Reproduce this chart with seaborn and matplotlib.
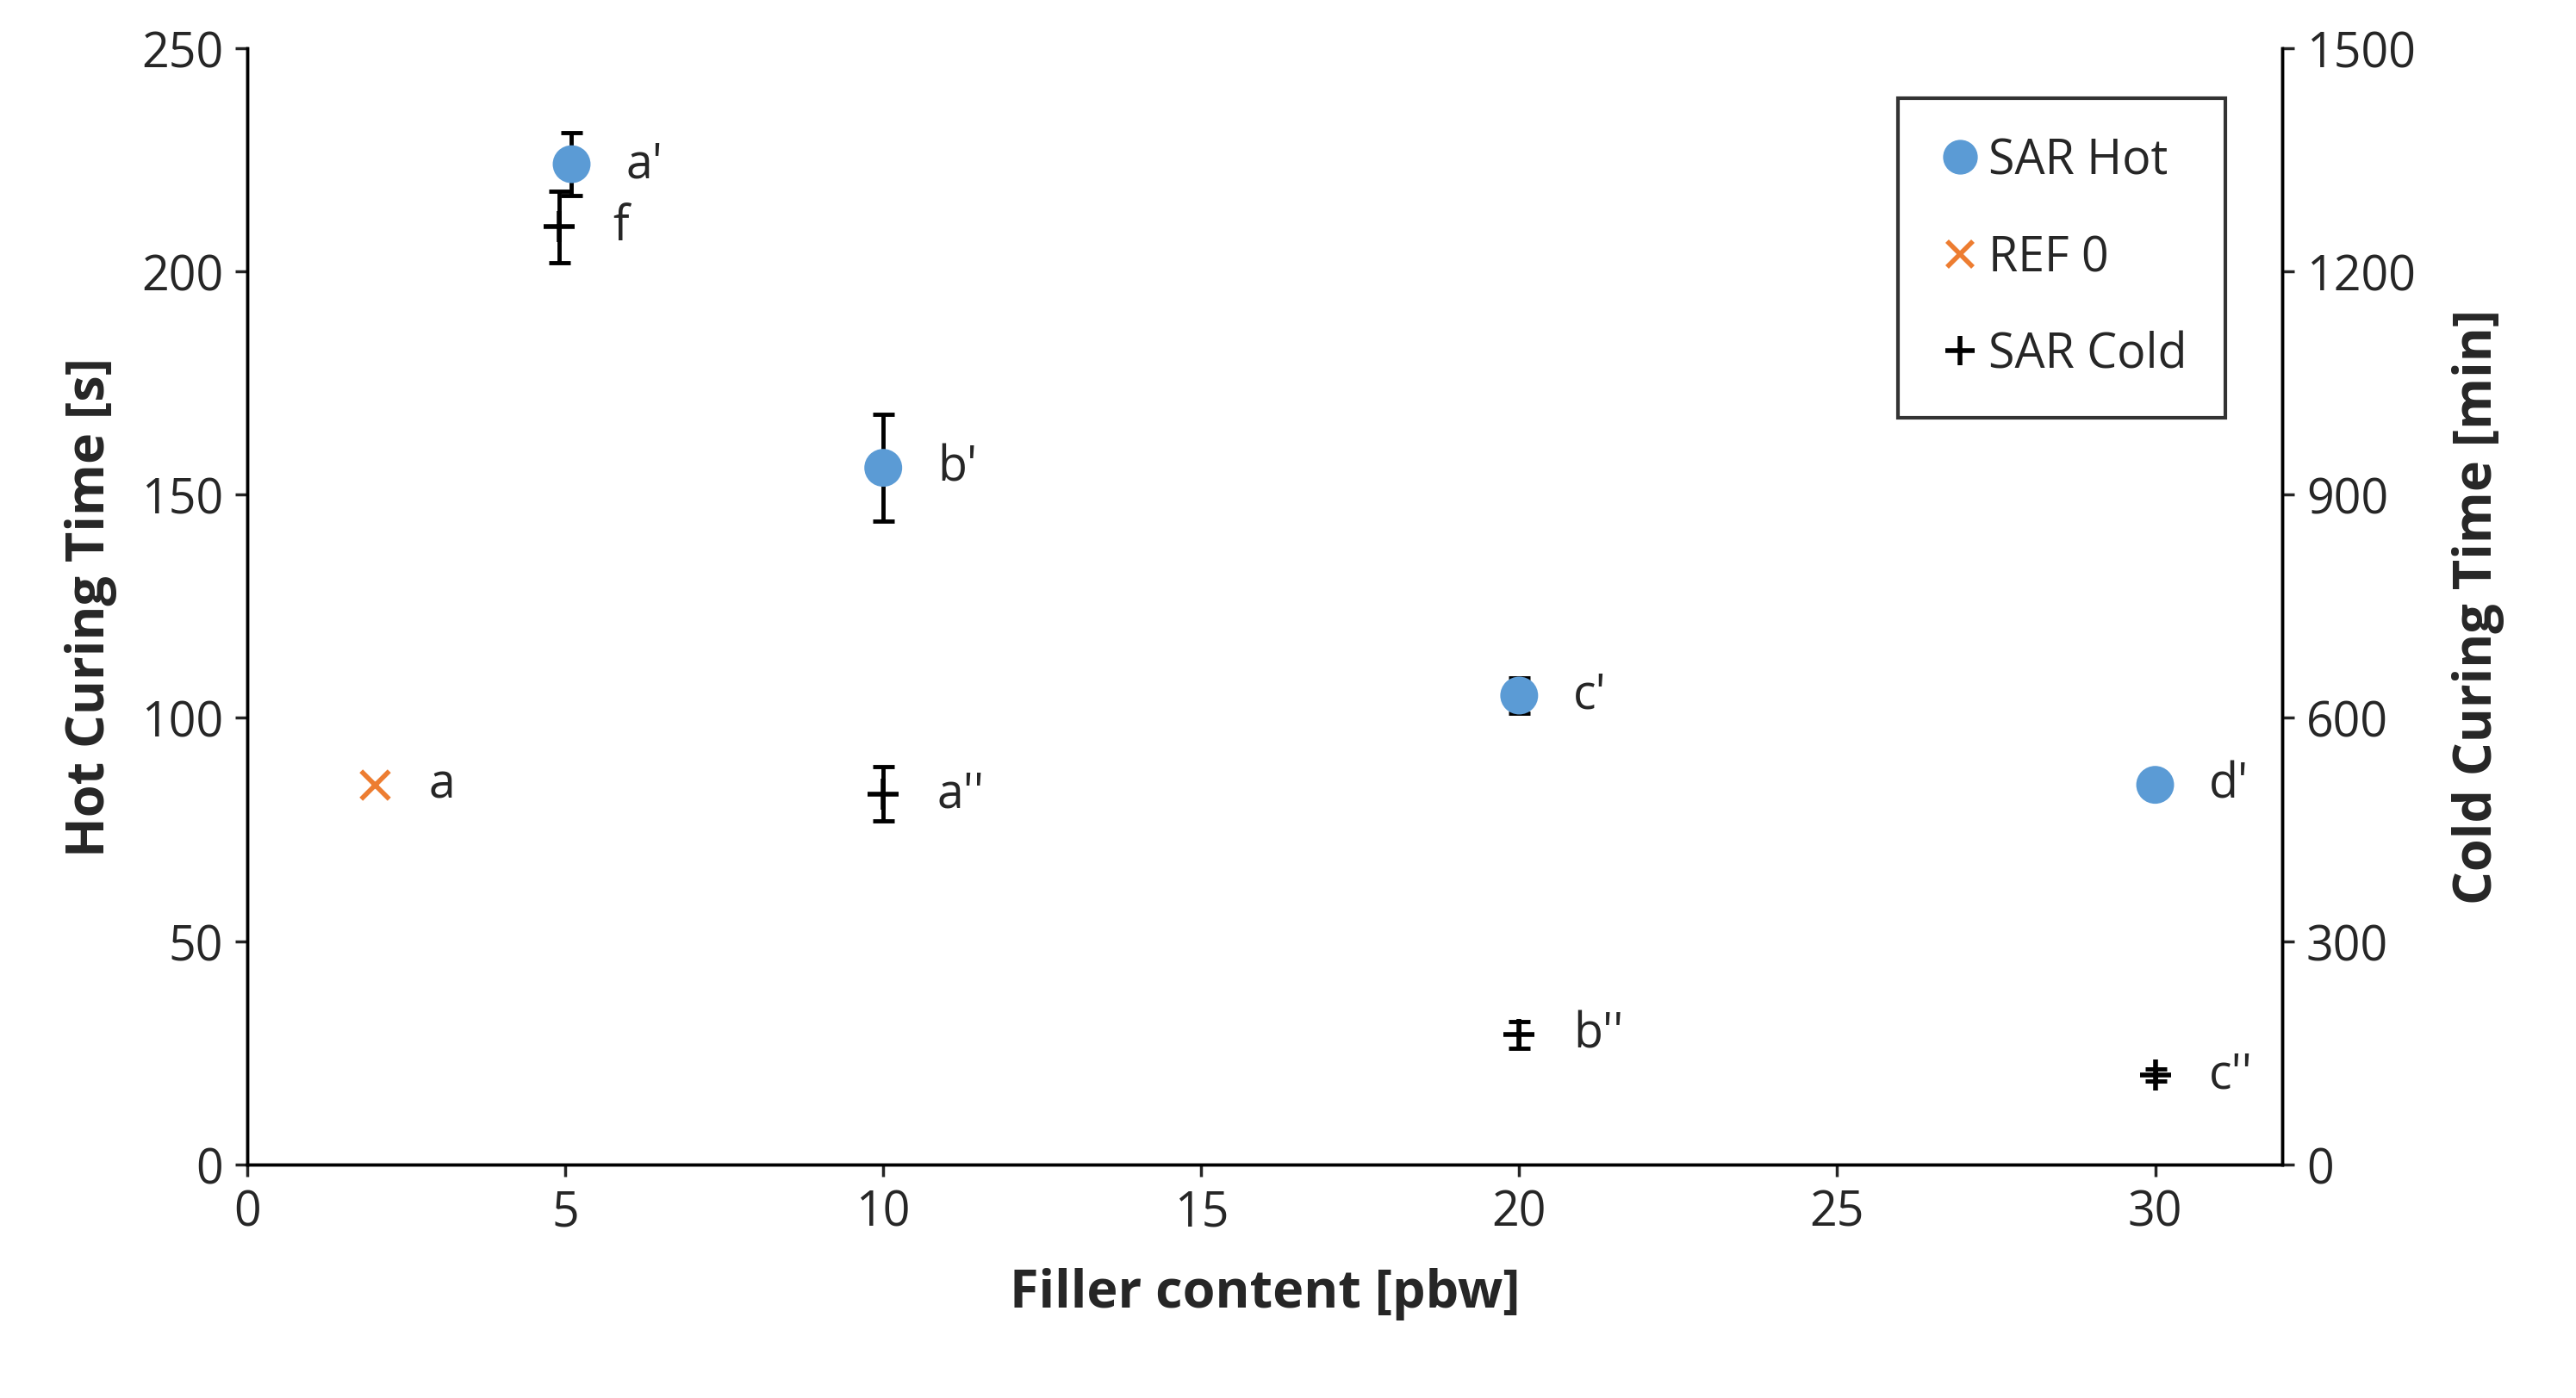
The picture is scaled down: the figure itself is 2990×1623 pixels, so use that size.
import matplotlib
matplotlib.use("Agg")
import matplotlib.pyplot as plt
import seaborn as sns
from matplotlib.lines import Line2D

hot_x = [5.1, 10, 20, 30]
hot_y = [224, 156, 105, 85]
hot_err = [7, 12, 4, 2]
hot_labels = ["a'", "b'", "c'", "d'"]

ref_x = [2]
ref_y = [85]
ref_labels = ["a"]

cold_x = [4.9, 10, 20, 30]
cold_y = [1260, 498, 174, 120]
cold_err = [48, 36, 18, 8]
cold_labels = ["f", "a''", "b''", "c''"]

sns.set_style("white")
plt.rcParams['font.family'] = ['Open Sans', 'DejaVu Sans']

fig = plt.figure(figsize=(29.9, 16.24), dpi=100)
ax = fig.add_axes([0.096, 0.167, 0.79, 0.798])
ax2 = ax.twinx()

ax.errorbar(hot_x, hot_y, yerr=hot_err, fmt='none', ecolor='black', elinewidth=3.5, capsize=9, capthick=3.5, zorder=2)
sns.scatterplot(x=hot_x, y=hot_y, ax=ax, color='#5B9BD5', s=1000, edgecolor='none', zorder=3, legend=False)
sns.scatterplot(x=ref_x, y=ref_y, ax=ax, color='#ED7D31', marker='x', s=550, linewidth=4, zorder=3, legend=False)

ax2.errorbar(cold_x, cold_y, yerr=cold_err, fmt='none', ecolor='black', elinewidth=3.5, capsize=9, capthick=3.5, zorder=2)
sns.scatterplot(x=cold_x, y=cold_y, ax=ax2, color='black', marker='+', s=650, linewidth=4, zorder=3, legend=False)

fs = 40
for x, y, t in zip(hot_x, hot_y, hot_labels):
    ax.text(x + 0.85, y, t, fontsize=fs, va='center')
for x, y, t in zip(ref_x, ref_y, ref_labels):
    ax.text(x + 0.85, y, t, fontsize=fs, va='center')
for x, y, t in zip(cold_x, cold_y, cold_labels):
    ax2.text(x + 0.85, y, t, fontsize=fs, va='center')

ax.set_xlim(0, 32)
ax.set_ylim(0, 250)
ax2.set_ylim(0, 1500)
ax.set_xticks([0, 5, 10, 15, 20, 25, 30])
ax.set_yticks(range(0, 251, 50))
ax2.set_yticks(range(0, 1501, 300))
for a in (ax, ax2):
    a.tick_params(labelsize=fs, length=10, width=2.5, direction='out', pad=10)
    for s in a.spines.values():
        s.set_linewidth(2.5)
        s.set_color('black')
ax.tick_params(axis='x', bottom=True)
ax.tick_params(axis='y', left=True)
ax2.tick_params(axis='y', right=True)
ax.spines['top'].set_visible(False)
ax2.spines['top'].set_visible(False)

ax.set_xlabel('Filler content [pbw]', fontsize=44, fontweight='bold', labelpad=25)
ax.set_ylabel('Hot Curing Time [s]', fontsize=44, fontweight='bold', labelpad=20)
ax2.set_ylabel('Cold Curing Time [min]', fontsize=44, fontweight='bold', labelpad=30)

handles = [
    Line2D([], [], marker='o', color='#5B9BD5', linestyle='none', markersize=28),
    Line2D([], [], marker='x', color='#ED7D31', linestyle='none', markersize=22, markeredgewidth=4),
    Line2D([], [], marker='+', color='black', linestyle='none', markersize=24, markeredgewidth=4),
]
leg = ax2.legend(handles, ['SAR Hot', 'REF 0', 'SAR Cold'], loc='upper right',
                 bbox_to_anchor=(0.972, 0.955), fontsize=fs, frameon=True, fancybox=False,
                 handletextpad=0.1, labelspacing=1.0, borderpad=0.8, handlelength=1.0,
                 borderaxespad=0)
leg.get_frame().set_edgecolor('black')
leg.get_frame().set_linewidth(3)

fig.savefig('out.png', dpi=100)
